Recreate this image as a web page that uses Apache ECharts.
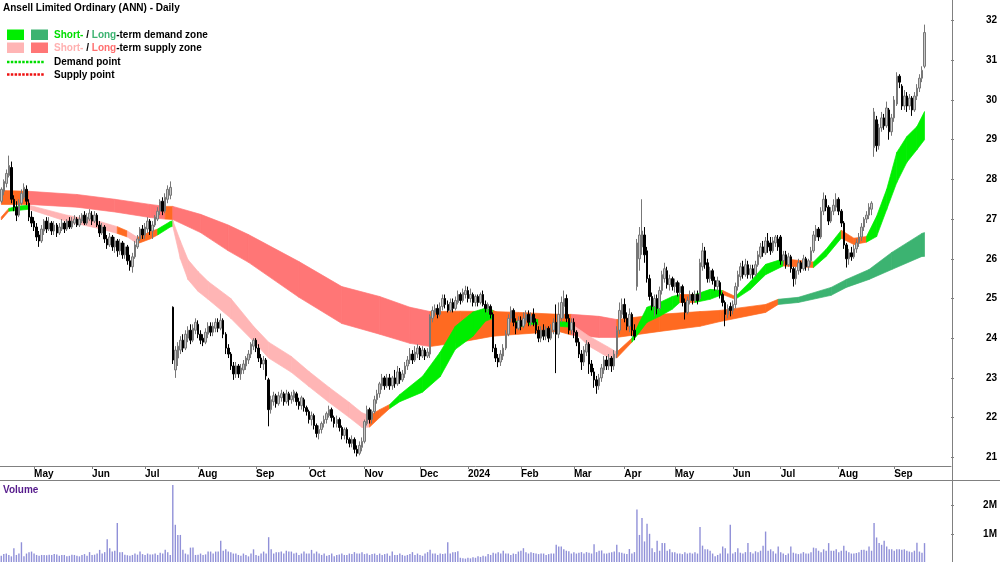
<!DOCTYPE html>
<html>
<head>
<meta charset="utf-8">
<script src="https://cdn.jsdelivr.net/npm/echarts/dist/echarts.min.js"></script>
<style>
html,body{margin:0;padding:0;background:#fff;}
#main{width:1000px;height:562px;}
</style>
</head>
<body>
<div id="main"></div>
<script>
// ---- tick labels ----
const monthLabels = ['May','Jun','Jul','Aug','Sep','Oct','Nov','Dec','2024','Feb','Mar','Apr','May','Jun','Jul','Aug','Sep'];
const monthStart  = [13,36,57,78,101,122,144,166,185,206,227,247,267,290,309,332,354];
const priceTicks  = [21,22,23,24,25,26,27,28,29,30,31,32];
const volumeTicks = [1,2];

// ---- daily candles [open, close, low, high] ----
const candles = [
// Apr 2023
[27.45,27.75,27.4,27.8],[27.7,27.95,27.6,28.0],[27.9,28.15,27.8,28.25],[28.1,28.35,28.05,28.6],[28.3,27.5,27.4,28.45],[27.5,27.3,27.2,27.6],[27.3,27.1,26.95,27.45],[27.1,27.4,27.05,27.5],[27.4,27.65,27.35,27.75],[27.55,27.8,27.5,27.9],[27.75,27.45,27.35,27.85],[27.4,27.05,26.95,27.5],[27.05,26.9,26.8,27.2],
// May
[26.95,26.8,26.7,27.05],[26.8,26.55,26.45,26.9],[26.6,26.45,26.3,26.7],[26.45,26.75,26.4,26.85],[26.7,26.95,26.6,27.0],[26.95,26.75,26.65,27.05],[26.75,26.9,26.7,27.05],[26.9,26.7,26.6,26.95],[26.7,26.85,26.6,26.95],[26.85,26.65,26.55,26.9],[26.65,26.8,26.6,26.9],[26.75,26.9,26.7,27.0],[26.9,26.75,26.65,26.95],[26.75,26.95,26.7,27.0],[26.95,26.8,26.75,27.05],[26.8,26.95,26.75,27.05],[26.9,27.0,26.85,27.1],[27.0,26.85,26.8,27.05],[26.85,27.0,26.8,27.1],[26.95,27.1,26.9,27.15],[27.1,26.9,26.85,27.2],[26.9,27.05,26.85,27.15],[27.0,27.15,26.95,27.25],
// Jun
[27.1,26.95,26.85,27.2],[26.95,27.1,26.9,27.2],[27.1,26.85,26.8,27.15],[26.85,26.65,26.55,26.95],[26.65,26.8,26.6,26.9],[26.8,26.5,26.4,26.85],[26.5,26.35,26.25,26.6],[26.35,26.55,26.3,26.65],[26.55,26.3,26.2,26.6],[26.3,26.45,26.15,26.55],[26.45,26.2,26.05,26.5],[26.2,26.4,26.1,26.5],[26.4,26.1,26.0,26.45],[26.1,26.3,26.0,26.4],[26.3,25.95,25.85,26.35],[25.95,25.8,25.7,26.1],[25.8,26.05,25.65,26.15],[26.05,26.35,26.0,26.45],[26.3,26.5,26.25,26.6],[26.5,26.75,26.45,26.8],[26.75,26.6,26.5,26.85],
// Jul
[26.6,26.8,26.5,26.9],[26.75,26.95,26.65,27.05],[26.95,26.7,26.6,27.0],[26.7,26.85,26.5,26.95],[26.85,27.05,26.8,27.1],[27.0,27.2,26.95,27.3],[27.2,27.45,27.1,27.5],[27.45,27.2,27.1,27.55],[27.2,27.55,27.15,27.65],[27.5,27.75,27.4,27.85],[27.6,27.8,27.5,27.95],[24.78,23.45,23.35,24.8],[23.2,23.7,23.0,23.8],[23.5,23.8,23.3,23.9],[23.7,23.95,23.6,24.05],[23.95,23.75,23.65,24.1],[23.75,24.1,23.7,24.2],[24.0,24.2,23.9,24.3],[24.2,23.95,23.85,24.35],[23.95,24.25,23.9,24.35],[24.2,24.4,24.1,24.5],
// Aug
[24.35,24.1,24.0,24.45],[24.1,23.95,23.85,24.2],[24.0,23.9,23.8,24.1],[23.9,24.15,23.85,24.25],[24.1,24.3,24.0,24.4],[24.3,24.15,24.05,24.4],[24.15,24.3,24.05,24.4],[24.25,24.4,24.15,24.5],[24.4,24.25,24.15,24.5],[24.25,24.45,24.2,24.62],[24.45,24.1,24.0,24.5],[24.1,23.75,23.6,24.15],[23.75,23.6,23.5,23.85],[23.6,23.3,23.2,23.65],[23.3,23.1,22.95,23.4],[23.1,23.3,23.0,23.4],[23.3,23.1,23.0,23.35],[23.1,23.25,22.95,23.35],[23.2,23.35,23.1,23.45],[23.3,23.5,23.2,23.55],[23.45,23.6,23.35,23.7],[23.6,23.85,23.5,23.9],[23.8,23.95,23.7,24.0],
// Sep
[23.95,23.75,23.65,24.0],[23.75,23.5,23.4,23.85],[23.5,23.35,23.25,23.6],[23.35,23.45,23.2,23.55],[23.45,23.05,22.95,23.5],[22.95,22.2,21.78,23.0],[22.2,22.45,22.1,22.55],[22.4,22.55,22.3,22.65],[22.55,22.35,22.25,22.6],[22.35,22.55,22.3,22.65],[22.5,22.6,22.4,22.7],[22.6,22.4,22.3,22.65],[22.4,22.6,22.35,22.7],[22.6,22.45,22.3,22.65],[22.45,22.55,22.35,22.65],[22.5,22.65,22.4,22.7],[22.6,22.4,22.3,22.65],[22.4,22.3,22.2,22.5],[22.3,22.5,22.2,22.55],[22.45,22.25,22.15,22.5],[22.25,22.15,22.05,22.3],
// Oct
[22.15,21.95,21.85,22.2],[21.95,22.05,21.8,22.15],[22.05,21.8,21.7,22.1],[21.8,21.6,21.5,21.85],[21.6,21.7,21.45,21.8],[21.7,21.85,21.6,21.9],[21.85,21.95,21.75,22.05],[21.95,22.1,21.85,22.15],[22.05,22.2,22.0,22.3],[22.2,22.0,21.9,22.25],[22.0,21.85,21.75,22.05],[21.85,21.95,21.75,22.05],[21.95,21.75,21.65,22.0],[21.75,21.55,21.45,21.8],[21.55,21.7,21.45,21.75],[21.7,21.45,21.35,21.75],[21.45,21.35,21.25,21.5],[21.35,21.45,21.25,21.55],[21.45,21.2,21.1,21.5],[21.2,21.1,21.02,21.3],[21.1,21.3,21.05,21.4],[21.25,21.4,21.15,21.5],
// Nov
[21.4,21.9,21.35,21.95],[21.85,22.2,21.8,22.3],[22.2,21.95,21.85,22.25],[21.95,22.15,21.85,22.2],[22.15,22.45,22.1,22.55],[22.45,22.6,22.35,22.7],[22.6,22.85,22.5,22.9],[22.8,23.0,22.7,23.1],[23.0,22.8,22.7,23.05],[22.8,23.0,22.75,23.1],[23.0,22.8,22.7,23.1],[22.8,23.0,22.7,23.05],[23.0,22.85,22.75,23.2],[22.85,23.15,22.8,23.3],[23.15,22.95,22.85,23.25],[22.95,23.1,22.9,23.2],[23.1,23.3,23.0,23.4],[23.3,23.45,23.2,23.55],[23.45,23.6,23.35,23.75],[23.6,23.45,23.35,23.7],[23.45,23.65,23.4,23.8],[23.6,23.75,23.5,23.85],
// Dec
[23.75,23.55,23.45,23.8],[23.55,23.7,23.5,23.8],[23.7,23.55,23.45,23.75],[23.55,23.65,23.5,23.75],[23.6,24.55,23.5,24.6],[24.5,24.7,24.4,24.8],[24.65,24.75,24.55,24.85],[24.75,24.6,24.5,24.85],[24.6,24.8,24.55,24.9],[24.8,25.0,24.7,25.1],[25.0,24.85,24.75,25.1],[24.85,24.7,24.65,24.95],[24.7,24.9,24.65,25.0],[24.9,24.75,24.65,25.0],[24.75,24.95,24.7,25.05],[24.9,25.1,24.85,25.2],[25.1,24.95,24.85,25.15],[24.95,25.15,24.9,25.25],[25.1,25.2,25.0,25.32],
// Jan 2024
[25.2,25.0,24.9,25.3],[25.0,25.1,24.9,25.25],[25.1,24.9,24.8,25.15],[24.9,25.05,24.8,25.1],[25.05,24.9,24.8,25.1],[24.9,25.1,24.85,25.15],[25.1,24.85,24.8,25.2],[24.85,24.75,24.65,24.95],[24.75,24.85,24.65,24.9],[24.8,24.6,24.5,24.85],[24.6,23.75,23.65,24.65],[23.75,23.5,23.4,23.85],[23.5,23.4,23.27,23.6],[23.4,23.6,23.3,23.7],[23.55,23.75,23.45,23.85],[23.75,24.1,23.7,24.2],[24.1,24.5,24.05,24.6],[24.5,24.7,24.4,24.8],[24.7,24.4,24.3,24.75],[24.4,24.25,24.1,24.5],[24.25,24.45,24.2,24.55],
// Feb
[24.45,24.3,24.2,24.55],[24.3,24.5,24.25,24.65],[24.45,24.6,24.35,24.7],[24.6,24.4,24.3,24.7],[24.4,24.55,24.3,24.65],[24.6,24.4,24.3,24.75],[24.4,24.2,24.1,24.5],[24.2,24.0,23.9,24.3],[24.0,24.2,23.9,24.3],[24.2,24.05,23.95,24.35],[24.05,24.25,23.95,24.3],[24.25,24.0,23.9,24.3],[24.0,24.2,23.95,24.35],[24.2,24.4,24.1,24.5],[24.4,24.1,23.12,24.85],[24.1,24.6,24.0,24.9],[24.5,24.9,24.4,25.05],[24.8,25.0,24.5,25.2],[25.0,24.5,24.4,25.1],[24.5,24.2,24.1,24.6],[24.2,24.4,24.1,24.5],
// Mar
[24.4,24.15,24.0,24.5],[24.15,23.9,23.8,24.2],[23.9,23.6,23.5,24.0],[23.6,23.4,23.2,23.7],[23.4,23.7,23.3,23.8],[23.65,23.85,23.55,23.95],[23.85,23.35,23.1,23.9],[23.35,23.15,23.05,23.45],[23.15,22.95,22.75,23.25],[22.95,22.8,22.6,23.05],[22.8,23.0,22.7,23.1],[23.0,23.25,22.9,23.35],[23.2,23.45,23.1,23.55],[23.45,23.3,23.2,23.55],[23.3,23.5,23.2,23.6],[23.5,23.3,23.15,23.55],[23.3,23.6,23.2,23.7],[23.6,24.2,23.5,24.3],[24.2,24.7,24.1,24.9],[24.6,24.85,24.5,25.0],
// Apr
[24.85,24.5,24.4,25.0],[24.5,24.3,24.2,24.65],[24.3,24.6,24.15,24.75],[24.6,24.2,24.05,24.65],[24.2,24.05,23.95,24.35],[25.3,26.4,25.2,26.5],[26.0,26.6,25.7,26.8],[26.3,26.7,26.1,27.5],[26.6,26.1,25.9,26.8],[26.2,25.5,25.4,26.3],[25.5,25.05,24.95,25.6],[25.05,24.8,24.7,25.15],[24.8,25.0,24.55,25.1],[25.0,24.75,24.6,25.1],[24.75,25.2,24.7,25.3],[25.2,25.6,25.1,25.7],[25.5,25.75,25.4,25.9],[25.7,25.35,25.25,25.8],[25.35,25.5,25.2,25.6],[25.5,25.3,25.2,25.55],
// May
[25.3,25.4,25.15,25.5],[25.4,25.15,25.05,25.45],[25.15,25.3,25.05,25.4],[25.3,24.9,24.8,25.35],[24.9,24.65,24.47,25.0],[24.65,24.95,24.6,25.05],[24.95,25.1,24.85,25.2],[25.1,24.95,24.85,25.15],[24.95,25.1,24.9,25.2],[25.1,24.95,24.85,25.2],[25.0,25.9,24.95,26.0],[25.8,26.2,25.7,26.4],[26.2,25.85,25.75,26.3],[25.9,25.5,25.4,26.0],[25.5,25.7,25.4,25.8],[25.7,25.45,25.35,25.75],[25.45,25.3,25.2,25.55],[25.3,25.45,25.2,25.55],[25.4,25.1,25.0,25.45],[25.1,24.9,24.8,25.15],[24.9,24.6,24.3,24.95],[24.6,24.75,24.5,24.85],[24.8,24.7,24.55,24.9],
// Jun
[24.7,24.85,24.6,24.95],[24.85,25.3,24.75,25.4],[25.3,25.6,25.2,25.7],[25.55,25.8,25.45,25.9],[25.8,25.6,25.5,25.95],[25.6,25.85,25.55,26.0],[25.85,25.6,25.5,25.95],[25.6,25.75,25.5,25.85],[25.75,25.6,25.5,25.85],[25.6,25.85,25.55,25.95],[25.85,26.1,25.8,26.2],[26.05,26.3,26.0,26.4],[26.3,26.15,26.05,26.45],[26.15,26.45,26.1,26.55],[26.45,26.3,26.15,26.65],[26.4,26.2,26.1,26.55],[26.2,26.45,26.15,26.55],[26.4,26.55,26.3,26.6],[26.5,26.3,26.2,26.6],
// Jul
[26.55,25.95,25.85,26.6],[25.95,26.1,25.85,26.2],[26.1,25.85,25.75,26.2],[25.85,26.05,25.8,26.15],[26.05,25.75,25.65,26.1],[25.75,25.5,25.3,25.8],[25.5,25.7,25.35,25.8],[25.7,25.9,25.6,26.0],[25.9,25.75,25.65,25.95],[25.75,26.0,25.7,26.1],[26.0,25.8,25.7,26.05],[25.8,25.95,25.7,26.0],[25.95,26.2,25.85,26.3],[26.2,26.6,26.15,26.7],[26.55,26.75,26.45,26.85],[26.75,26.55,26.45,26.8],[26.55,27.2,26.5,27.3],[27.2,27.5,27.1,27.67],[27.5,27.3,27.2,27.6],[27.3,26.95,26.85,27.35],[26.95,27.2,26.9,27.3],[27.2,27.35,27.1,27.5],[27.3,27.5,27.2,27.65],
// Aug
[27.5,27.2,27.1,27.55],[27.2,26.9,26.8,27.25],[26.9,26.35,26.25,26.95],[26.35,26.0,25.78,26.4],[26.0,26.15,25.85,26.25],[26.15,26.05,25.95,26.3],[26.05,26.25,26.0,26.35],[26.25,26.4,26.15,26.5],[26.4,26.55,26.3,26.65],[26.55,26.8,26.45,26.9],[26.8,27.0,26.7,27.05],[27.0,27.1,26.9,27.2],[27.1,27.3,27.0,27.4],[27.25,27.4,27.1,27.45],[28.8,29.7,28.57,29.8],[29.5,28.85,28.7,29.6],[28.85,29.3,28.75,29.4],[29.3,29.55,29.2,29.7],[29.55,29.35,29.25,29.65],[29.35,29.8,29.3,29.96],[29.75,29.2,29.0,29.8],[29.2,29.55,29.1,29.65],
// Sep
[29.55,30.0,29.45,30.1],[29.9,30.6,29.85,30.7],[30.6,30.45,30.3,30.65],[30.35,29.85,29.75,30.4],[29.85,30.1,29.75,30.25],[30.1,29.85,29.7,30.2],[29.85,30.05,29.75,30.15],[30.05,29.75,29.6,30.1],[29.75,30.1,29.7,30.2],[30.1,30.3,30.0,30.4],[30.3,30.55,30.2,30.65],[30.55,30.75,30.45,30.85],[30.85,31.7,30.8,31.9]
];

// ---- daily volume (millions) ----
const volume = [
0.22,0.28,0.3,0.25,0.2,0.49,0.25,0.3,0.7,0.2,
0.3,0.35,0.37,0.3,0.25,0.22,0.25,0.25,0.24,0.26,
0.25,0.28,0.27,0.22,0.25,0.25,0.2,0.22,0.26,0.25,
0.22,0.2,0.25,0.28,0.22,0.35,0.25,0.26,0.3,0.43,
0.3,0.35,0.81,0.49,0.37,0.4,1.38,0.35,0.35,0.26,
0.24,0.22,0.25,0.3,0.26,0.37,0.28,0.25,0.3,0.27,
0.27,0.3,0.25,0.33,0.3,0.43,0.35,0.25,2.73,1.32,
0.96,0.96,0.43,0.3,0.27,0.51,0.51,0.25,0.26,0.3,
0.25,0.27,0.37,0.37,0.3,0.37,0.37,0.75,0.4,0.45,
0.37,0.35,0.3,0.3,0.25,0.22,0.3,0.25,0.2,0.3,
0.45,0.25,0.22,0.3,0.37,0.3,0.88,0.45,0.3,0.35,
0.35,0.37,0.3,0.4,0.37,0.37,0.3,0.33,0.25,0.3,
0.37,0.3,0.3,0.43,0.3,0.37,0.3,0.25,0.3,0.22,
0.25,0.3,0.2,0.25,0.27,0.3,0.25,0.25,0.3,0.28,
0.35,0.3,0.3,0.35,0.28,0.3,0.25,0.28,0.3,0.25,
0.3,0.25,0.28,0.3,0.22,0.37,0.25,0.25,0.3,0.25,
0.22,0.25,0.28,0.35,0.25,0.3,0.25,0.22,0.3,0.35,
0.43,0.3,0.3,0.25,0.3,0.28,0.3,0.7,0.3,0.35,
0.35,0.38,0.15,0.13,0.12,0.15,0.13,0.17,0.15,0.2,
0.18,0.22,0.2,0.28,0.25,0.33,0.3,0.35,0.3,0.4,
0.3,0.3,0.25,0.3,0.28,0.37,0.4,0.49,0.35,0.3,
0.35,0.32,0.3,0.28,0.3,0.3,0.25,0.28,0.3,0.3,
0.61,0.55,0.55,0.45,0.4,0.38,0.3,0.35,0.3,0.33,
0.35,0.3,0.35,0.33,0.3,0.63,0.35,0.4,0.41,0.3,
0.3,0.33,0.35,0.37,0.61,0.35,0.33,0.3,0.28,0.46,
0.3,0.35,1.86,0.96,1.56,0.73,1.36,1.0,0.49,0.35,
0.75,0.4,0.67,0.67,0.4,0.45,0.35,0.35,0.3,0.3,
0.28,0.35,0.3,0.33,0.3,0.35,0.3,1.24,0.58,0.45,
0.45,0.4,0.3,0.2,0.25,0.3,0.55,0.49,0.3,1.32,
0.3,0.35,0.49,0.33,0.3,0.35,0.67,0.35,0.3,0.38,
0.35,0.4,0.58,1.08,0.4,0.45,0.38,0.3,0.55,0.35,
0.3,0.25,0.3,0.55,0.33,0.3,0.28,0.3,0.35,0.3,
0.3,0.35,0.51,0.49,0.4,0.35,0.45,0.4,0.67,0.4,
0.4,0.45,0.35,0.4,0.58,0.4,0.35,0.3,0.3,0.32,
0.35,0.43,0.43,0.4,0.55,0.4,1.38,0.87,0.67,0.61,
0.75,0.55,0.45,0.45,0.4,0.45,0.45,0.43,0.45,0.4,
0.37,0.35,0.4,0.68,0.37,0.33,0.67
];

// ---- zones [dayIndex, lower, upper, state]  (state colours the stretch to the next point) ----
const longZone = [
[0,27.37,27.72,'O'],[11,27.37,27.70,'P'],[30,27.30,27.62,'P'],[45,27.18,27.50,'P'],[59,27.04,27.37,'P'],
[65,27.00,27.32,'O'],[68,26.99,27.32,'P'],[79,26.66,27.12,'P'],[90,26.20,26.85,'P'],[98,25.91,26.61,'P'],
[118,25.03,25.93,'P'],[135,24.37,25.30,'P'],[150,24.10,25.05,'P'],[162,23.87,24.78,'P'],[170,23.79,24.67,'O'],
[182,23.90,24.68,'O'],[195,24.05,24.67,'O'],[205,24.10,24.65,'O'],[221,24.17,24.60,'O'],[226,24.08,24.60,'P'],
[237,24.02,24.55,'P'],[244,24.02,24.47,'O'],[261,24.17,24.60,'O'],[277,24.30,24.67,'O'],[285,24.42,24.70,'O'],
[303,24.65,24.85,'O'],[308,24.85,24.98,'G'],[316,24.90,25.03,'G'],[329,25.08,25.28,'G'],[335,25.28,25.48,'G'],
[344,25.48,25.73,'G'],[353,25.73,26.16,'G'],[365,26.06,26.64,'G'],[366,26.06,26.66,'G']
];
const shortZone = [
[0,26.98,27.05,'o'],[3,27.20,27.27,'g'],[7,27.22,27.33,'g'],[11,27.25,27.35,'p'],[26,26.94,27.10,'p'],
[39,26.76,26.94,'p'],[46,26.64,26.81,'o'],[50,26.55,26.70,'p'],[54,26.38,26.54,'o'],[59,26.50,26.68,'o'],
[62,26.60,26.75,'g'],[67,26.80,26.94,'g'],[68,26.82,26.96,'p'],[71,26.00,26.45,'p'],[74,25.48,25.98,'p'],
[78,25.18,25.68,'p'],[82,24.98,25.43,'p'],[91,24.50,25.00,'p'],[100,23.92,24.30,'p'],[106,23.50,23.90,'p'],
[115,23.14,23.54,'p'],[122,22.78,23.16,'p'],[130,22.38,22.76,'p'],[138,22.00,22.38,'p'],[143,21.75,22.12,'p'],
[146,21.76,22.05,'o'],[150,22.00,22.20,'o'],[154,22.23,22.33,'g'],[158,22.40,22.58,'g'],[167,22.64,23.04,'g'],
[174,23.03,23.65,'g'],[180,23.72,24.30,'g'],[187,24.05,24.66,'g'],[192,24.43,24.76,'g'],[195,24.50,24.70,'o'],
[204,24.30,24.42,'g'],[207,24.30,24.42,'o'],[209,24.35,24.47,'g'],[213,24.35,24.47,'o'],[221,24.30,24.42,'g'],
[225,24.28,24.40,'p'],[233,23.80,24.05,'p'],[240,23.54,23.80,'p'],[244,23.50,23.65,'o'],[250,23.90,24.00,'g'],
[253,24.15,24.40,'g'],[256,24.40,24.78,'g'],[261,24.55,24.90,'g'],[266,24.73,25.05,'g'],[269,24.90,25.10,'o'],
[275,24.90,25.10,'g'],[281,24.98,25.23,'g'],[286,25.10,25.20,'o'],[291,24.98,25.05,'g'],[297,25.23,25.43,'g'],
[303,25.60,25.86,'g'],[310,25.82,26.00,'o'],[322,25.78,25.92,'g'],[327,26.06,26.24,'g'],[333,26.52,26.72,'o'],
[338,26.36,26.52,'o'],[343,26.42,26.56,'g'],[347,26.56,27.07,'g'],[351,27.24,27.75,'g'],[355,27.92,28.68,'g'],
[359,28.43,29.08,'g'],[363,28.75,29.33,'g'],[366,29.00,29.71,'g']
];

const zoneColours = {
  O:'#ff6a21', P:'#ff7676', G:'#3cb371',
  o:'#ff6a21', p:'#ffb5b5', g:'#00ee00'
};

const N = 377;
const cats = Array.from({length: N}, (_, i) => String(i));
const FONT = '"Liberation Sans", Arial, Helvetica, sans-serif';

function zoneSeries(points, z) {
  return {
    type: 'custom', xAxisIndex: 0, yAxisIndex: 0, z: z, silent: true, clip: true,
    data: points.map(p => [p[0], p[1], p[2]]),
    encode: { x: 0, y: [1, 2] },
    renderItem: function (params, api) {
      const k = params.dataIndex;
      if (k >= points.length - 1) return null;
      const a = points[k], b = points[k + 1];
      const c = zoneColours[a[3]];
      return {
        type: 'polygon',
        shape: { points: [api.coord([a[0], a[2]]), api.coord([b[0], b[2]]), api.coord([b[0], b[1]]), api.coord([a[0], a[1]])] },
        style: { fill: c, stroke: c, lineWidth: 0.7 }
      };
    }
  };
}

const chart = echarts.init(document.getElementById('main'));
const isMonth = (i) => monthStart.indexOf(i) >= 0;

chart.setOption({
  animation: false,
  backgroundColor: '#ffffff',
  grid: [
    { left: 0, top: 0, width: 952, height: 466 },
    { left: 0, top: 480, width: 952, height: 82 }
  ],
  xAxis: [
    { type: 'category', gridIndex: 0, data: cats, boundaryGap: true,
      axisLine: { show: true, lineStyle: { color: '#808080', width: 1 } },
      axisTick: { show: true, alignWithLabel: true, length: 3, interval: isMonth, lineStyle: { color: '#808080' } },
      axisLabel: { show: true, interval: isMonth, align: 'left', margin: 3,
        formatter: (v, i) => { const k = monthStart.indexOf(i); return k >= 0 ? monthLabels[k] : ''; },
        color: '#000', fontWeight: 'bold', fontSize: 10, fontFamily: FONT },
      splitLine: { show: false } },
    { type: 'category', gridIndex: 1, data: cats, boundaryGap: true,
      axisLine: { show: false }, axisTick: { show: false }, axisLabel: { show: false }, splitLine: { show: false } }
  ],
  yAxis: [
    { type: 'value', gridIndex: 0, position: 'right', min: 20.78, max: 32.52, scale: true,
      axisLine: { show: false },
      axisTick: { show: true, length: 3, customValues: priceTicks, lineStyle: { color: '#808080' } },
      axisLabel: { show: true, customValues: priceTicks, margin: 46, align: 'right',
        color: '#000', fontWeight: 'bold', fontSize: 10, fontFamily: FONT },
      splitLine: { show: false } },
    { type: 'value', gridIndex: 1, position: 'right', min: 0, max: 2.908,
      axisLine: { show: false },
      axisTick: { show: true, length: 3, customValues: volumeTicks, lineStyle: { color: '#808080' } },
      axisLabel: { show: true, customValues: volumeTicks, margin: 46, align: 'right', formatter: '{value}M',
        color: '#000', fontWeight: 'bold', fontSize: 10, fontFamily: FONT },
      splitLine: { show: false } }
  ],
  series: [
    zoneSeries(longZone, 1),
    zoneSeries(shortZone, 2),
    { type: 'candlestick', xAxisIndex: 0, yAxisIndex: 0, z: 5, data: candles, barWidth: 2,
      itemStyle: { color: '#c8c8c8', color0: '#000000', borderColor: '#777777', borderColor0: '#000000', borderWidth: 1 } },
    { type: 'bar', xAxisIndex: 1, yAxisIndex: 1, data: volume, barWidth: 1.4,
      itemStyle: { color: '#9090d8' } }
  ],
  graphic: [
    { type: 'line', silent: true, shape: { x1: 952.5, y1: 0, x2: 952.5, y2: 562 }, style: { stroke: '#808080', lineWidth: 1 } },
    { type: 'line', silent: true, shape: { x1: 0, y1: 480.5, x2: 1000, y2: 480.5 }, style: { stroke: '#808080', lineWidth: 1 } },
    { type: 'text', x: 3, y: 8, style: { text: 'Ansell Limited Ordinary (ANN) - Daily', font: 'bold 10px ' + FONT, fill: '#000', verticalAlign: 'middle' } },
    { type: 'rect', shape: { x: 7, y: 29.5, width: 17, height: 10.5 }, style: { fill: '#00ee00' } },
    { type: 'rect', shape: { x: 31, y: 29.5, width: 17, height: 10.5 }, style: { fill: '#3cb371' } },
    { type: 'rect', shape: { x: 7, y: 42.5, width: 17, height: 10.5 }, style: { fill: '#ffb5b5' } },
    { type: 'rect', shape: { x: 31, y: 42.5, width: 17, height: 10.5 }, style: { fill: '#ff7676' } },
    { type: 'line', shape: { x1: 7, y1: 62, x2: 45, y2: 62 }, style: { stroke: '#00dd00', lineWidth: 2.5, lineDash: [2.5, 1.3] } },
    { type: 'line', shape: { x1: 7, y1: 74.5, x2: 45, y2: 74.5 }, style: { stroke: '#ee1111', lineWidth: 2.5, lineDash: [2.5, 1.3] } },
    { type: 'text', x: 54, y: 35, style: { text: '{a|Short-} / {b|Long}-term demand zone', font: 'bold 10px ' + FONT, fill: '#000', verticalAlign: 'middle',
        rich: { a: { fill: '#00dd00', font: 'bold 10px ' + FONT }, b: { fill: '#3cb371', font: 'bold 10px ' + FONT } } } },
    { type: 'text', x: 54, y: 48, style: { text: '{a|Short-} / {b|Long}-term supply zone', font: 'bold 10px ' + FONT, fill: '#000', verticalAlign: 'middle',
        rich: { a: { fill: '#ffb0b0', font: 'bold 10px ' + FONT }, b: { fill: '#ff6f6f', font: 'bold 10px ' + FONT } } } },
    { type: 'text', x: 54, y: 62, style: { text: 'Demand point', font: 'bold 10px ' + FONT, fill: '#000', verticalAlign: 'middle' } },
    { type: 'text', x: 54, y: 75, style: { text: 'Supply point', font: 'bold 10px ' + FONT, fill: '#000', verticalAlign: 'middle' } },
    { type: 'text', x: 3, y: 490, style: { text: 'Volume', font: 'bold 10px ' + FONT, fill: '#551a8b', verticalAlign: 'middle' } }
  ]
});
</script>
</body>
</html>
